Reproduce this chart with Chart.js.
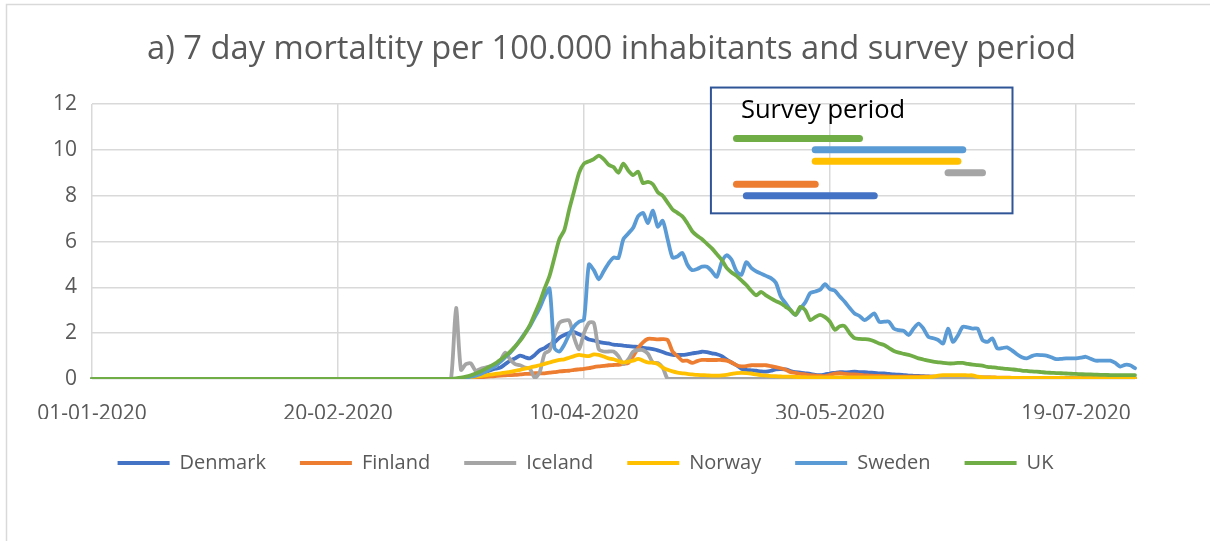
<!DOCTYPE html>
<html><head><meta charset="utf-8">
<script src="https://cdn.jsdelivr.net/npm/chart.js@4.4.1/dist/chart.umd.min.js"></script>
<style>html,body{margin:0;padding:0;background:#fff;}canvas{display:block;}</style>
</head><body>
<canvas id="c" width="1210" height="541"></canvas>
<script>
// ---------- categories (daily, 01-01-2020 .. 31-07-2020) ----------
const firstDay = [2020, 0, 1];
const dayCount = 213;
const dates = [];
for (let i = 0; i < dayCount; i++) {
  const d = new Date(Date.UTC(firstDay[0], firstDay[1], firstDay[2] + i));
  dates.push(String(d.getUTCDate()).padStart(2, '0') + '-' + String(d.getUTCMonth() + 1).padStart(2, '0') + '-' + d.getUTCFullYear());
}
const tickLabels = ['01-01-2020', '20-02-2020', '10-04-2020', '30-05-2020', '19-07-2020'];
const titleText = 'a) 7 day mortaltity per 100.000 inhabitants and survey period';
const countries = ['Denmark', 'Finland', 'Iceland', 'Norway', 'Sweden', 'UK'];

// ---------- series values (7 day mortality per 100.000) ----------
const denmark = [
0,0,0,0,0,0,0,0,0,0, 0,0,0,0,0,0,0,0,0,0, 0,0,0,0,0,0,0,0,0,0, 0,0,0,0,0,0,0,0,0,0,
0,0,0,0,0,0,0,0,0,0, 0,0,0,0,0,0,0,0,0,0, 0,0,0,0,0,0,0,0,0,0,
0,0,0,0,0,0,0.05,0.1,0.15,0.2,
0.3,0.38,0.45,0.5,0.65,0.8,0.9,1.02,0.95,0.9,
1.05,1.25,1.35,1.5,1.6,1.8,1.92,2.0,2.04,1.95,
1.85,1.72,1.68,1.62,1.58,1.55,1.5,1.48,1.46,1.43,
1.41,1.4,1.36,1.34,1.3,1.25,1.18,1.1,1.05,1.05,
1.05,1.08,1.12,1.15,1.19,1.17,1.12,1.08,1.0,0.85,
0.72,0.6,0.45,0.4,0.38,0.36,0.33,0.32,0.36,0.42,
0.43,0.42,0.35,0.3,0.28,0.25,0.22,0.18,0.17,0.2,
0.24,0.27,0.3,0.29,0.3,0.32,0.3,0.3,0.28,0.27,
0.25,0.24,0.22,0.2,0.19,0.17,0.15,0.14,0.13,0.12,
0.11,0.1,0.09,0.08,0.08,0.07,0.07,0.07,0.06,0.06,
0.06,0.06,0.06,0.05,0.05,0.05,0.05,0.05,0.05,0.05,
0.05,0.05,0.05,0.05,0.04,0.04,0.04,0.04,0.04,0.04,
0.04,0.04,0.04,0.04,0.04,0.04,0.04,0.04,0.04,0.04,
0.04,0.04,0.04];
const finland = [
0,0,0,0,0,0,0,0,0,0, 0,0,0,0,0,0,0,0,0,0, 0,0,0,0,0,0,0,0,0,0, 0,0,0,0,0,0,0,0,0,0,
0,0,0,0,0,0,0,0,0,0, 0,0,0,0,0,0,0,0,0,0, 0,0,0,0,0,0,0,0,0,0,
0,0,0,0,0,0,0,0.03,0.05,0.07,
0.09,0.11,0.13,0.15,0.16,0.17,0.18,0.2,0.22,0.23,
0.25,0.25,0.25,0.28,0.3,0.33,0.35,0.36,0.4,0.42,
0.44,0.47,0.52,0.55,0.57,0.6,0.61,0.62,0.66,0.7,
1.0,1.35,1.6,1.75,1.75,1.73,1.74,1.7,1.2,1.0,
0.8,0.8,0.7,0.78,0.83,0.83,0.83,0.83,0.83,0.8,
0.72,0.6,0.55,0.56,0.6,0.6,0.6,0.6,0.56,0.52,
0.47,0.4,0.3,0.27,0.22,0.2,0.17,0.15,0.13,0.13,
0.18,0.23,0.25,0.22,0.2,0.2,0.18,0.16,0.15,0.14,
0.13,0.12,0.11,0.1,0.1,0.1,0.1,0.1,0.1,0.1,
0.1,0.1,0.1,0.09,0.09,0.09,0.09,0.08,0.08,0.08,
0.08,0.07,0.07,0.07,0.06,0.06,0.06,0.05,0.05,0.05,
0.05,0.05,0.05,0.04,0.04,0.04,0.04,0.04,0.04,0.04,
0.03,0.03,0.03,0.03,0.03,0.03,0.03,0.03,0.03,0.03,
0.03,0.03,0.03];
const iceland = [
0,0,0,0,0,0,0,0,0,0, 0,0,0,0,0,0,0,0,0,0, 0,0,0,0,0,0,0,0,0,0, 0,0,0,0,0,0,0,0,0,0,
0,0,0,0,0,0,0,0,0,0, 0,0,0,0,0,0,0,0,0,0, 0,0,0,0,0,0,0,0,0,0,
0,0,0,0.05,3.1,0.4,0.65,0.68,0.35,0.45,
0.5,0.55,0.55,0.8,1.15,0.85,0.65,0.6,0.5,0.45,
0.05,0.3,1.1,1.25,1.9,2.45,2.55,2.55,1.8,1.3,
2.0,2.45,2.45,1.3,1.2,1.2,1.2,1.0,0.65,0.85,
1.2,1.26,1.26,1.1,0.72,0.7,0.5,0,0,0,
0,0,0,0,0,0,0,0,0,0, 0,0,0,0,0,0,0,0,0,0, 0,0,0,0,0,0,0,0,0,0,
0,0,0,0,0,0,0,0,0,0, 0,0,0,0,0,0,0,0,0,0, 0,0,0,0,0,0,0,0,0,0,
0,0,0,0,0,0,0,0,0,0, 0,0,0,0,0,0,0,0,0,0, 0,0,0,0,0,0,0,0,0,0,
0,0,0];
const norway = [
0,0,0,0,0,0,0,0,0,0, 0,0,0,0,0,0,0,0,0,0, 0,0,0,0,0,0,0,0,0,0, 0,0,0,0,0,0,0,0,0,0,
0,0,0,0,0,0,0,0,0,0, 0,0,0,0,0,0,0,0,0,0, 0,0,0,0,0,0,0,0,0,0,
0,0,0,0,0,0,0.05,0.08,0.1,0.13,
0.16,0.19,0.22,0.25,0.28,0.31,0.35,0.4,0.45,0.5,
0.55,0.6,0.66,0.72,0.78,0.83,0.86,0.93,1.0,1.05,
1.02,1.0,1.07,1.05,0.98,0.9,0.86,0.78,0.72,0.76,
0.8,0.88,0.8,0.72,0.71,0.65,0.5,0.4,0.33,0.28,
0.25,0.22,0.2,0.18,0.17,0.16,0.15,0.15,0.16,0.18,
0.22,0.26,0.27,0.26,0.24,0.2,0.17,0.15,0.13,0.12,
0.11,0.1,0.1,0.09,0.08,0.08,0.07,0.07,0.07,0.07,
0.07,0.07,0.07,0.07,0.07,0.07,0.07,0.07,0.07,0.07,
0.07,0.07,0.07,0.07,0.07,0.07,0.07,0.07,0.07,0.08,
0.08,0.1,0.15,0.17,0.17,0.17,0.17,0.17,0.16,0.16,
0.1,0.07,0.06,0.06,0.05,0.05,0.05,0.05,0.05,0.05,
0.05,0.05,0.05,0.05,0.05,0.05,0.05,0.05,0.04,0.04,
0.04,0.04,0.04,0.04,0.04,0.04,0.04,0.04,0.04,0.04,
0.04,0.04,0.04];
const sweden = [
0,0,0,0,0,0,0,0,0,0, 0,0,0,0,0,0,0,0,0,0, 0,0,0,0,0,0,0,0,0,0, 0,0,0,0,0,0,0,0,0,0,
0,0,0,0,0,0,0,0,0,0, 0,0,0,0,0,0,0,0,0,0, 0,0,0,0,0,0,0,0,0,0,
0,0,0,0,0,0.03,0.06,0.1,0.15,0.22,
0.32,0.45,0.58,0.75,0.95,1.15,1.4,1.7,2.0,2.3,
2.7,3.1,3.6,3.95,1.35,1.2,1.5,1.95,2.3,2.5,
2.6,5.0,4.75,4.35,4.7,5.05,5.3,5.28,6.1,6.35,
6.6,7.1,7.25,6.8,7.35,6.65,6.9,6.1,5.3,5.35,
5.5,5.0,4.75,4.8,4.9,4.9,4.7,4.46,5.1,5.4,
5.2,4.7,4.55,5.1,4.85,4.7,4.6,4.5,4.4,4.2,
3.6,3.3,3.0,2.8,3.08,3.35,3.75,3.82,3.9,4.14,
3.92,3.85,3.6,3.37,3.1,2.86,2.75,2.57,2.7,2.86,
2.5,2.5,2.5,2.2,2.13,2.1,1.92,2.2,2.42,2.2,
1.84,1.78,1.7,1.55,2.2,1.62,1.9,2.28,2.25,2.2,
2.2,1.7,1.62,1.77,1.34,1.35,1.38,1.25,1.08,0.95,
0.9,1.0,1.05,1.04,1.02,0.95,0.87,0.88,0.9,0.9,
0.9,0.93,0.97,0.88,0.8,0.8,0.8,0.8,0.7,0.54,
0.62,0.6,0.47];
const uk = [
0,0,0,0,0,0,0,0,0,0, 0,0,0,0,0,0,0,0,0,0, 0,0,0,0,0,0,0,0,0,0, 0,0,0,0,0,0,0,0,0,0,
0,0,0,0,0,0,0,0,0,0, 0,0,0,0,0,0,0,0,0,0, 0,0,0,0,0,0,0,0,0,0,
0,0,0,0.01,0.03,0.06,0.1,0.16,0.24,0.33,
0.44,0.56,0.68,0.84,1.0,1.19,1.42,1.66,1.98,2.35,
2.85,3.35,3.95,4.5,5.3,6.1,6.5,7.4,8.2,9.0,
9.4,9.5,9.6,9.75,9.6,9.35,9.25,9.0,9.4,9.1,
8.9,9.05,8.55,8.6,8.5,8.15,8.0,7.7,7.4,7.25,
7.1,6.8,6.45,6.25,6.1,5.9,5.7,5.45,5.2,4.85,
4.65,4.5,4.3,4.1,3.85,3.65,3.8,3.65,3.52,3.4,
3.3,3.15,3.0,2.8,3.15,3.0,2.57,2.7,2.8,2.7,
2.5,2.15,2.3,2.3,2.0,1.78,1.75,1.74,1.72,1.65,
1.55,1.48,1.35,1.22,1.15,1.1,1.05,0.98,0.9,0.85,
0.8,0.76,0.73,0.7,0.68,0.68,0.7,0.7,0.66,0.63,
0.61,0.58,0.53,0.51,0.49,0.46,0.44,0.42,0.4,0.37,
0.35,0.33,0.32,0.3,0.28,0.27,0.26,0.25,0.24,0.23,
0.22,0.21,0.2,0.2,0.19,0.18,0.18,0.17,0.17,0.17,
0.17,0.17,0.17];

// ---------- survey periods (inset) ----------
const surveyCountries = ['UK', 'Sweden', 'Norway', 'Iceland', 'Finland', 'Denmark'];
const surveyStart = ['11-05-2020', '27-05-2020', '27-05-2020', '23-06-2020', '11-05-2020', '13-05-2020'];
const surveyEnd   = ['05-06-2020', '26-06-2020', '25-06-2020', '30-06-2020', '27-05-2020', '08-06-2020'];

// ---------- styling ----------
const colors = { Denmark: '#4472C4', Finland: '#ED7D31', Iceland: '#A5A5A5', Norway: '#FFC000', Sweden: '#5B9BD5', UK: '#70AD47' };
const seriesValues = [denmark, finland, iceland, norway, sweden, uk];
const drawOrder = { Denmark: 5, Finland: 4, Iceland: 3, Norway: 2, Sweden: 1, UK: 0 };
const FONT = 'Open Sans';
const TXT = '#595959';
const GRID = '#D9D9D9';

const datasets = countries.map((name, i) => ({
  label: name,
  data: seriesValues[i],
  borderColor: colors[name],
  backgroundColor: colors[name],
  borderWidth: 3.8,
  borderCapStyle: 'round',
  borderJoinStyle: 'round',
  pointRadius: 0,
  tension: 0.25,
  order: drawOrder[name]
}));
surveyCountries.forEach((name, i) => {
  datasets.push({
    label: 'survey ' + name,
    data: [{ x: surveyStart[i], y: 10.5 - 0.5 * i }, { x: surveyEnd[i], y: 10.5 - 0.5 * i }],
    borderColor: colors[name],
    backgroundColor: colors[name],
    borderWidth: 7,
    borderCapStyle: 'round',
    pointRadius: 0,
    tension: 0,
    order: -1
  });
});

const pageFrame = {
  id: 'pageFrame',
  beforeDraw(chart) {
    const ctx = chart.ctx;
    ctx.save();
    ctx.fillStyle = '#ffffff';
    ctx.fillRect(0, 0, chart.width, chart.height);
    ctx.strokeStyle = '#D9D9D9';
    ctx.lineWidth = 1.5;
    ctx.beginPath();
    ctx.moveTo(6.5, chart.height + 5);
    ctx.lineTo(6.5, 4.5);
    ctx.lineTo(chart.width + 5, 4.5);
    ctx.stroke();
    ctx.restore();
  }
};

// centre title and legend under the full picture width rather than the padded box
const blockShift = {
  id: 'blockShift',
  afterLayout(chart) {
    const lg = chart.legend;
    if (lg) { lg.left += 18; lg.right += 18; }
    const tb = chart.titleBlock;
    if (tb) { tb.left += 44; tb.right += 44; }
  }
};

// decorative inset frame, placed in data units
const insetFrame = { fromDay: 125.8, toDay: 187.1, top: 12.72, bottom: 7.23 };
const surveyInset = {
  id: 'surveyInset',
  afterDatasetsDraw(chart) {
    const { ctx, scales: { x, y } } = chart;
    const l = x.getPixelForValue(insetFrame.fromDay), r = x.getPixelForValue(insetFrame.toDay);
    const t = y.getPixelForValue(insetFrame.top), b = y.getPixelForValue(insetFrame.bottom);
    ctx.save();
    ctx.strokeStyle = '#2F5597';
    ctx.lineWidth = 2;
    ctx.strokeRect(l, t, r - l, b - t);
    ctx.fillStyle = '#000000';
    ctx.font = '25.5px "' + FONT + '"';
    ctx.textBaseline = 'alphabetic';
    ctx.textAlign = 'left';
    ctx.fillText('Survey period', l + 30, t + 30);
    ctx.restore();
  }
};

new Chart(document.getElementById('c'), {
  type: 'line',
  data: { labels: dates, datasets },
  options: {
    responsive: false,
    animation: false,
    devicePixelRatio: 1,
    layout: { padding: { left: 0, right: 75, top: 0, bottom: 58 } },
    plugins: {
      title: {
        display: true, text: titleText, color: TXT,
        font: { family: FONT, size: 32.7, weight: 'normal', lineHeight: 1.2 },
        padding: { top: 30.4, bottom: 34.4 }
      },
      legend: {
        position: 'bottom',
        labels: {
          usePointStyle: true, pointStyle: 'line', pointStyleWidth: 52,
          color: TXT, font: { family: FONT, size: 20 }, padding: 34,
          filter: (item) => item.datasetIndex < countries.length,
          sort: (a, b) => a.datasetIndex - b.datasetIndex
        }
      },
      tooltip: { enabled: false }
    },
    scales: {
      x: {
        type: 'category',
        offset: false,
        border: { display: false },
        grid: {
          drawTicks: false, lineWidth: 1.5,
          color: (c) => (c.tick && tickLabels.includes(c.tick.label)) ? GRID : 'rgba(0,0,0,0)'
        },
        ticks: {
          autoSkip: false, maxRotation: 0, minRotation: 0, padding: 22,
          color: TXT, font: { family: FONT, size: 21 },
          callback: (v, i) => tickLabels.includes(dates[i]) ? dates[i] : ''
        },
        afterFit: (s) => { s.height = 40; }
      },
      y: {
        min: 0, max: 12,
        border: { display: false },
        grid: { color: GRID, lineWidth: 1.5, drawTicks: false },
        ticks: { stepSize: 2, padding: 15, color: TXT, font: { family: FONT, size: 21 } },
        afterFit: (s) => { s.width = 92; }
      }
    }
  },
  plugins: [pageFrame, blockShift, surveyInset]
});
</script>
</body></html>
